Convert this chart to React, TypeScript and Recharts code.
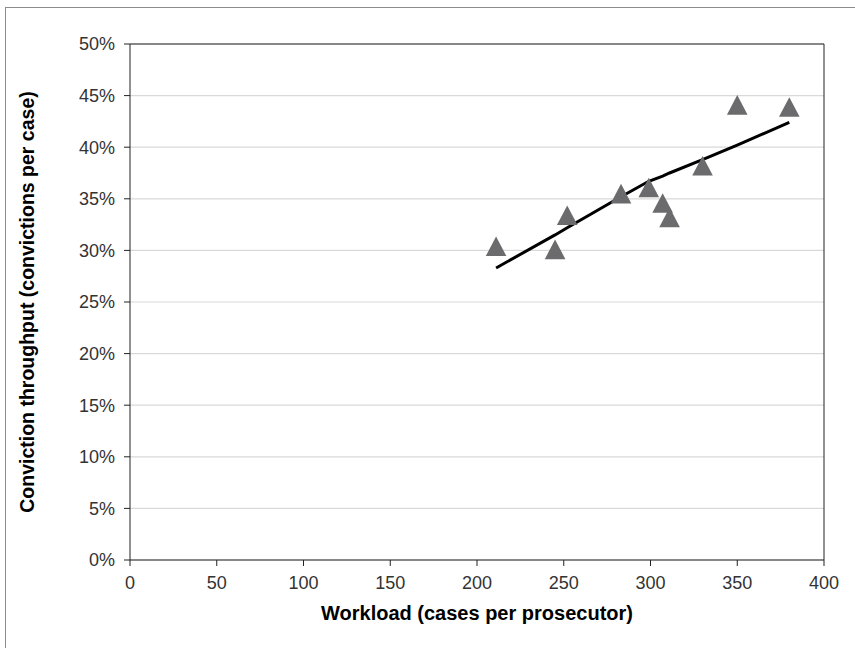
import {
  ScatterChart,
  Scatter,
  XAxis,
  YAxis,
  CartesianGrid,
  ReferenceLine,
} from 'recharts';

// observed offices: workload vs conviction throughput (in %)
const workload = [211, 245, 252, 283, 299, 307, 311, 330, 350, 380];
const throughput = [30.4, 30.1, 33.4, 35.5, 36.1, 34.6, 33.2, 38.2, 44.1, 43.9];

// fitted trend line at the same workloads
const trendWorkload = [211, 245, 252, 283, 299, 307, 311, 330, 350, 380];
const trendThroughput = [28.3, 31.5, 32.2, 35.2, 36.7, 37.2, 37.5, 38.8, 40.2, 42.4];

const xTicks = [0, 50, 100, 150, 200, 250, 300, 350, 400];
const yTicks = [0, 5, 10, 15, 20, 25, 30, 35, 40, 45, 50];

const xTitle = 'Workload (cases per prosecutor)';
const yTitle = 'Conviction throughput (convictions per case)';

const points = workload.map((w, i) => ({ x: w, y: throughput[i] }));
const trend = trendWorkload.map((w, i) => ({ x: w, y: trendThroughput[i] }));

const FONT = 'Liberation Sans, Arial, sans-serif';

const Triangle = (props: any) => {
  const { cx, cy } = props;
  if (cx == null || cy == null) return <g />;
  const hw = 10.3;
  const hh = 9.8;
  return (
    <polygon
      points={`${cx},${cy - hh} ${cx - hw},${cy + hh} ${cx + hw},${cy + hh}`}
      fill='#6b6b6e'
    />
  );
};

const NoMarker = () => <g />;

const tickStyle = { fontSize: 18, fill: '#333', fontFamily: FONT };

const YTitle = (props: any) => {
  const vb = props.viewBox || {};
  const x = (vb.x ?? 0) + 27;
  const y = (vb.y ?? 0) + (vb.height ?? 0) / 2;
  return (
    <text
      x={x}
      y={y}
      transform={`rotate(-90, ${x}, ${y})`}
      textAnchor='middle'
      dominantBaseline='central'
      fontSize={19.5}
      fontWeight='bold'
      fontFamily={FONT}
      fill='#000'
    >
      {yTitle}
    </text>
  );
};

const XTitle = (props: any) => {
  const vb = props.viewBox || {};
  const x = (vb.x ?? 0) + (vb.width ?? 0) / 2;
  const y = (vb.y ?? 0) + 53;
  return (
    <text
      x={x}
      y={y}
      textAnchor='middle'
      dominantBaseline='central'
      fontSize={20}
      fontWeight='bold'
      fontFamily={FONT}
      fill='#000'
    >
      {xTitle}
    </text>
  );
};

const App = () => {
  return (
    <div style={{ position: 'absolute', left: 0, top: 0, width: 855, height: 648, background: '#fff', overflow: 'hidden' }}>
      <div
        style={{
          position: 'absolute',
          left: 5,
          top: 7,
          width: 860,
          height: 660,
          borderLeft: '1.5px solid #8c8c8c',
          borderTop: '1.5px solid #8c8c8c',
        }}
      />
      <div style={{ position: 'absolute', left: 0, top: 0 }}>
        <ScatterChart width={855} height={648} margin={{ top: 44, right: 31, bottom: 0, left: 0 }}>
          <CartesianGrid vertical={false} stroke='#d9d9d9' strokeWidth={1.2} />
          <XAxis
            type='number'
            dataKey='x'
            domain={[0, 400]}
            ticks={xTicks}
            interval={0}
            height={88}
            stroke='#222'
            tickSize={6}
            tickMargin={10}
            tick={tickStyle}
            label={{ content: XTitle }}
          />
          <YAxis
            type='number'
            dataKey='y'
            domain={[0, 50]}
            ticks={yTicks}
            interval={0}
            width={130}
            stroke='#222'
            tickSize={6}
            tickMargin={9}
            tick={tickStyle}
            tickFormatter={(v: number) => `${v}%`}
            label={{ content: YTitle }}
          />
          <ReferenceLine y={50} stroke='#222' />
          <ReferenceLine x={400} stroke='#222' />
          <Scatter
            data={trend}
            line={{ stroke: '#000', strokeWidth: 3 }}
            lineType='joint'
            shape={NoMarker}
            isAnimationActive={false}
          />
          <Scatter data={points} shape={Triangle} isAnimationActive={false} />
        </ScatterChart>
      </div>
    </div>
  );
};

export default App;
